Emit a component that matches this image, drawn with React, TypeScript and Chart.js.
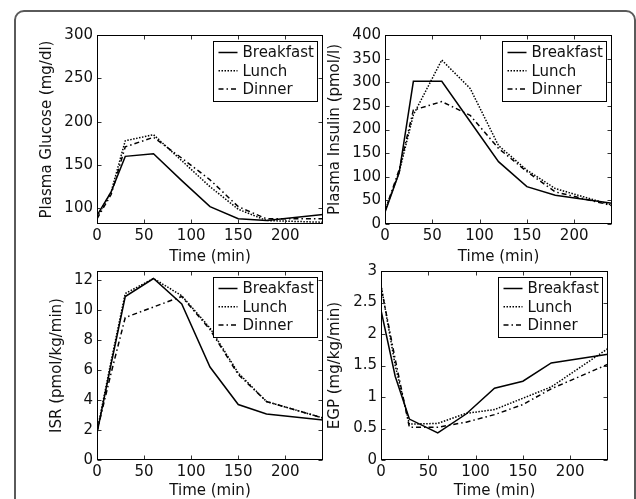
import React, { useEffect, useRef } from "react";
import { Chart, registerables } from "chart.js";

Chart.register(...registerables);

// ---------- data ----------
const times = [0, 15, 30, 60, 90, 120, 150, 180, 240];
const xTicks = [0, 50, 100, 150, 200];
const seriesNames = ["Breakfast", "Lunch", "Dinner"];
const xTitle = "Time (min)";

const glucoseBreakfast = [92, 119, 160, 163, 132, 102, 88, 86, 93];
const glucoseLunch = [90, 119, 178, 185, 155, 125, 99, 86, 84];
const glucoseDinner = [88, 116, 171, 182, 158, 133, 102, 88, 88];
const glucoseTicks = [100, 150, 200, 250, 300];

const insulinBreakfast = [25, 109, 302, 302, 217, 132, 79, 61, 44];
const insulinLunch = [28, 110, 231, 347, 287, 166, 114, 75, 40];
const insulinDinner = [28, 115, 241, 259, 230, 160, 111, 68, 39];
const insulinTicks = [0, 50, 100, 150, 200, 250, 300, 350, 400];

const isrBreakfast = [1.8, 6.4, 10.9, 12.1, 10.4, 6.2, 3.7, 3.07, 2.67];
const isrLunch = [1.9, 6.6, 11.1, 12.1, 10.95, 8.8, 5.8, 3.9, 2.8];
const isrDinner = [1.9, 5.8, 9.5, 10.2, 10.9, 8.7, 5.7, 3.9, 2.8];
const isrTicks = [0, 2, 4, 6, 8, 10, 12];

const egpBreakfast = [2.38, 1.33, 0.65, 0.43, 0.73, 1.14, 1.25, 1.54, 1.68];
const egpLunch = [2.78, 1.5, 0.57, 0.58, 0.74, 0.8, 0.98, 1.16, 1.77];
const egpDinner = [2.75, 1.6, 0.52, 0.52, 0.6, 0.72, 0.88, 1.13, 1.52];
const egpTicks = [0, 0.5, 1, 1.5, 2, 2.5, 3];

// ---------- styling ----------
const FONT_FAMILY = "'DejaVu Sans', sans-serif";
const FONT_SIZE = 15;
const TEXT_COLOR = "#111";
const dashes: number[][] = [[], [1.5, 1.5], [5, 3, 1.5, 3]];
const W = 636;
const H = 499;

type Panel = {
  series: number[][];
  yTicks: number[];
  yMin: number;
  yMax: number;
  yTitle: string;
  left: number;
  top: number;
  right: number;
  bottom: number;
  yTitleX: number;
  xTitleY: number;
};

const panels: Panel[] = [
  {
    series: [glucoseBreakfast, glucoseLunch, glucoseDinner],
    yTicks: glucoseTicks, yMin: 82, yMax: 300,
    yTitle: "Plasma Glucose (mg/dl)",
    left: 97, top: 35, right: 323, bottom: 224, yTitleX: 47.5, xTitleY: 257.5,
  },
  {
    series: [insulinBreakfast, insulinLunch, insulinDinner],
    yTicks: insulinTicks, yMin: 0, yMax: 400,
    yTitle: "Plasma Insulin (pmol/l)",
    left: 385, top: 35, right: 612, bottom: 224, yTitleX: 335, xTitleY: 257.5,
  },
  {
    series: [isrBreakfast, isrLunch, isrDinner],
    yTicks: isrTicks, yMin: 0, yMax: 12.6,
    yTitle: "ISR (pmol/kg/min)",
    left: 97, top: 271, right: 323, bottom: 460, yTitleX: 57.5, xTitleY: 491,
  },
  {
    series: [egpBreakfast, egpLunch, egpDinner],
    yTicks: egpTicks, yMin: 0, yMax: 3,
    yTitle: "EGP (mg/kg/min)",
    left: 381, top: 271, right: 608, bottom: 460, yTitleX: 335.5, xTitleY: 491,
  },
];

const decorPlugin = {
  id: "decor",
  afterDraw(chart: any) {
    const { ctx, chartArea: ca, scales } = chart;
    const l = Math.round(ca.left) + 0.5;
    const r = Math.round(ca.right) - 0.5;
    const t = Math.round(ca.top) + 0.5;
    const b = Math.round(ca.bottom) - 0.5;
    ctx.save();
    // inward tick marks
    ctx.strokeStyle = "#333";
    ctx.lineWidth = 1;
    const tl = 4;
    ctx.beginPath();
    scales.x.ticks.forEach((tk: any) => {
      const px = Math.round(scales.x.getPixelForValue(tk.value)) + 0.5;
      ctx.moveTo(px, b);
      ctx.lineTo(px, b - tl);
      ctx.moveTo(px, t);
      ctx.lineTo(px, t + tl);
    });
    scales.y.ticks.forEach((tk: any) => {
      const py = Math.round(scales.y.getPixelForValue(tk.value)) + 0.5;
      ctx.moveTo(l, py);
      ctx.lineTo(l + tl, py);
      ctx.moveTo(r, py);
      ctx.lineTo(r - tl, py);
    });
    ctx.stroke();
    // frame
    ctx.strokeStyle = "#000";
    ctx.strokeRect(l, t, r - l, b - t);
    // legend
    const bw = 104;
    const bh = 60;
    const bx = Math.round(ca.right - 6.5 - bw) + 0.5;
    const by = Math.round(ca.top + 6) + 0.5;
    ctx.fillStyle = "#fff";
    ctx.fillRect(bx, by, bw, bh);
    ctx.strokeStyle = "#000";
    ctx.lineWidth = 1;
    ctx.strokeRect(bx, by, bw, bh);
    ctx.font = `${FONT_SIZE}px ${FONT_FAMILY}`;
    ctx.textBaseline = "middle";
    ctx.textAlign = "left";
    chart.data.datasets.forEach((ds: any, i: number) => {
      const y = by + 11 + i * 18.3;
      ctx.beginPath();
      ctx.setLineDash(ds.borderDash || []);
      ctx.lineWidth = ds.borderWidth;
      ctx.strokeStyle = "#000";
      ctx.moveTo(bx + 5, y);
      ctx.lineTo(bx + 24, y);
      ctx.stroke();
      ctx.setLineDash([]);
      ctx.fillStyle = TEXT_COLOR;
      ctx.fillText(ds.label, bx + 29, y + 1);
    });
    ctx.restore();
  },
};

function makeConfig(p: Panel): any {
  const font = { family: FONT_FAMILY, size: FONT_SIZE };
  const yAxisLeft = p.yTitleX - (FONT_SIZE * 1.2) / 2;
  const xAxisBottom = p.xTitleY + (FONT_SIZE * 1.2) / 2;
  return {
    type: "line",
    data: {
      datasets: p.series.map((vals, i) => ({
        label: seriesNames[i],
        data: times.map((tm, j) => ({ x: tm, y: vals[j] })),
        borderColor: "#000",
        backgroundColor: "#000",
        borderWidth: 1.5,
        borderDash: dashes[i],
        pointRadius: 0,
        fill: false,
        tension: 0,
      })),
    },
    options: {
      animation: false,
      responsive: false,
      maintainAspectRatio: false,
      events: [],
      layout: {
        padding: {
          left: yAxisLeft,
          top: p.top,
          right: W - p.right,
          bottom: H - xAxisBottom,
        },
      },
      plugins: {
        legend: { display: false },
        tooltip: { enabled: false },
      },
      scales: {
        x: {
          type: "linear",
          min: 0,
          max: 240,
          grid: { display: false, drawTicks: false },
          border: { display: false },
          ticks: {
            font,
            color: TEXT_COLOR,
            padding: 3,
            maxRotation: 0,
            autoSkip: false,
            callback: (v: number) => String(v),
          },
          afterBuildTicks: (s: any) => {
            s.ticks = xTicks.map((v) => ({ value: v }));
          },
          afterFit: (s: any) => {
            s.height = xAxisBottom - p.bottom;
          },
          title: {
            display: true,
            text: xTitle,
            font,
            color: TEXT_COLOR,
            padding: 0,
          },
        },
        y: {
          type: "linear",
          min: p.yMin,
          max: p.yMax,
          grid: { display: false, drawTicks: false },
          border: { display: false },
          ticks: {
            font,
            color: TEXT_COLOR,
            padding: 4,
            autoSkip: false,
            callback: (v: number) => String(v),
          },
          afterBuildTicks: (s: any) => {
            s.ticks = p.yTicks.map((v) => ({ value: v }));
          },
          afterFit: (s: any) => {
            s.width = p.left - yAxisLeft;
          },
          title: {
            display: true,
            text: p.yTitle,
            font,
            color: TEXT_COLOR,
            padding: 0,
          },
        },
      },
    },
    plugins: [decorPlugin],
  };
}

function PanelChart({ panel }: { panel: Panel }) {
  const ref = useRef<HTMLCanvasElement | null>(null);
  useEffect(() => {
    if (!ref.current) return;
    const chart = new Chart(ref.current, makeConfig(panel));
    return () => chart.destroy();
  }, [panel]);
  return (
    <canvas
      ref={ref}
      width={W}
      height={H}
      style={{ position: "absolute", left: 0, top: 0, width: W, height: H }}
    />
  );
}

export default function App() {
  return (
    <div
      style={{
        position: "absolute",
        left: 0,
        top: 0,
        width: W,
        height: H,
        overflow: "hidden",
        background: "#fff",
      }}
    >
      <div
        style={{
          position: "absolute",
          left: 14,
          top: 10,
          width: 622,
          height: 600,
          boxSizing: "border-box",
          border: "2px solid #5a5a5a",
          borderRadius: 10,
        }}
      />
      {panels.map((p, i) => (
        <PanelChart key={i} panel={p} />
      ))}
    </div>
  );
}
